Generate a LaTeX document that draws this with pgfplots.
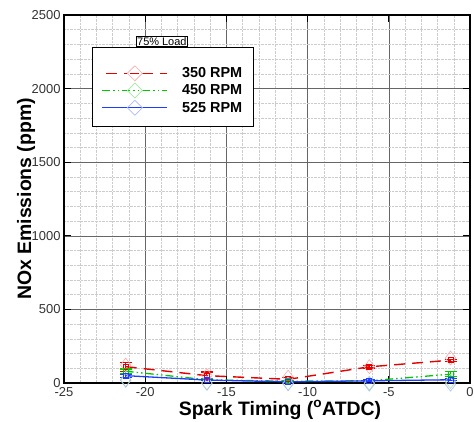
\documentclass[border=0pt]{standalone}
\usepackage{fontspec}
\setmainfont{Liberation Sans}
\usepackage{pgfplots}
\pgfplotsset{compat=1.18}
\definecolor{myred}{RGB}{230,0,0}
\definecolor{mygreen}{RGB}{0,200,0}
\definecolor{myblue}{RGB}{30,60,255}
\definecolor{lgred}{RGB}{250,170,170}
\definecolor{lggreen}{RGB}{160,235,160}
\definecolor{lgblue}{RGB}{175,185,255}
\begin{document}
\begin{tikzpicture}[x=1bp,y=1bp]
\begin{axis}[
 at={(0,0)}, anchor=south west,
 scale only axis, width=406bp, height=368bp,
 xmin=-25, xmax=0, ymin=0, ymax=2500,
 xtick={-25,-20,...,0}, ytick={0,500,...,2500},
 minor x tick num=4, minor y tick num=4,
 grid=both,
 major grid style={black!60, line width=0.5pt},
 minor grid style={gray!40, densely dotted, line width=0.5pt},
 tick align=inside,
 major tick length=7bp, minor tick length=0bp,
 axis line style={line width=1.2pt},
 tick style={black, line width=1pt},
 ticklabel style={font=\fontsize{13}{15}\selectfont, text=black!80},
 xticklabel style={yshift=-1bp},
 /pgf/number format/assume math mode=true,
 /pgf/number format/set thousands separator={},
 xlabel={Spark Timing (\textsuperscript{o}ATDC)},
 ylabel={NOx Emissions (ppm)},
 label style={font=\fontsize{19.5}{21}\selectfont\bfseries},
 xlabel style={at={(axis description cs:0.532,-0.0734)}, anchor=center},
 ylabel style={at={(axis description cs:-0.0935,0.5)}, anchor=center},
 clip=false,
 legend style={at={(rel axis cs:0.069,0.913)}, anchor=north west, draw=black, line width=1.3pt, fill=white,
   font=\fontsize{14.5}{16}\selectfont\bfseries, inner xsep=9bp, inner ysep=11bp, row sep=1.5bp,
   nodes={inner sep=2bp}},
 legend cell align=left,
]
% diamond markers
\addplot[only marks, mark=diamond, mark size=7bp, mark options={draw=lgred, line width=0.6pt, fill=none}, forget plot]
 coordinates {(-21.2,122) (-16.2,50) (-11.2,40) (-6.2,111) (-1.2,170)};
\addplot[only marks, mark=diamond, mark size=7bp, mark options={draw=lggreen, line width=0.6pt, fill=none}, forget plot]
 coordinates {(-21.2,22) (-16.2,0) (-11.2,-3) (-6.2,0) (-1.2,10)};
\addplot[only marks, mark=diamond, mark size=7bp, mark options={draw=lgblue, line width=0.6pt, fill=none}, forget plot]
 coordinates {(-21.2,18) (-16.2,-2) (-11.2,-5) (-6.2,-8) (-1.2,-8)};
% lines with error bars
\addplot[myred, line width=1.4pt, dash pattern=on 11bp off 7bp,
  mark=square, mark size=2.5bp, mark options={solid, line width=0.9pt},
  error bars/.cd, y dir=both, y explicit,
  error bar style={line width=1.1pt, solid},
  error mark options={rotate=90, mark size=6bp, line width=1.1pt, solid},
  /pgfplots/legend image code/.code={
    \path (0bp,14bp) (77bp,0bp);
    \begingroup\color{myred}
    \draw[myred, line width=1.4pt, dash pattern=on 11bp off 7bp, dash phase=-4bp] (0bp,0bp) -- (65bp,0bp);
    \endgroup
    \draw[draw=lgred, line width=0.7pt, solid, fill=white] (32.5bp,-7.5bp) -- (40bp,0bp) -- (32.5bp,7.5bp) -- (25bp,0bp) -- cycle;
    \begingroup\color{myred}
    \draw[myred, line width=1.4pt, solid] (28bp,0bp) -- (37bp,0bp);
    \endgroup},
  ]
 coordinates {(-21.2,111) +- (0,30) (-16.2,50) +- (0,25) (-11.2,25) +- (0,10) (-6.2,110) +- (0,8) (-1.2,155) +- (0,6)};
\addlegendentry{350 RPM}
\addplot[mygreen, line width=1.3pt, dash pattern=on 8bp off 3bp on 1.5bp off 3bp on 1.5bp off 3bp,
  mark=square, mark size=2.5bp, mark options={solid, line width=0.9pt},
  error bars/.cd, y dir=both, y explicit,
  error bar style={line width=1.1pt, solid},
  error mark options={rotate=90, mark size=6bp, line width=1.1pt, solid},
  /pgfplots/legend image code/.code={
    \path (77bp,0bp);
    \begingroup\color{mygreen}
    \draw[mygreen, line width=1.3pt, dash pattern=on 8bp off 3bp on 1.5bp off 3bp on 1.5bp off 3bp] (0bp,0bp) -- (65bp,0bp);
    \endgroup
    \draw[draw=lggreen, line width=0.7pt, solid] (32.5bp,-7.5bp) -- (40bp,0bp) -- (32.5bp,7.5bp) -- (25bp,0bp) -- cycle;},
  ]
 coordinates {(-21.2,80) +- (0,15) (-16.2,22) +- (0,5) (-11.2,12) +- (0,4) (-6.2,15) +- (0,4) (-1.2,60) +- (0,18)};
\addlegendentry{450 RPM}
\addplot[myblue, line width=1.3pt, solid,
  mark=square, mark size=2.5bp, mark options={solid, line width=0.9pt},
  error bars/.cd, y dir=both, y explicit,
  error bar style={line width=1.1pt, solid},
  error mark options={rotate=90, mark size=6bp, line width=1.1pt, solid},
  /pgfplots/legend image code/.code={
    \path (77bp,0bp);
    \begingroup\color{myblue}
    \draw[myblue, line width=1.4pt, solid] (0bp,0bp) -- (65bp,0bp);
    \endgroup
    \draw[draw=lgblue, line width=0.7pt, solid] (32.5bp,-7.5bp) -- (40bp,0bp) -- (32.5bp,7.5bp) -- (25bp,0bp) -- cycle;},
  ]
 coordinates {(-21.2,50) +- (0,10) (-16.2,20) +- (0,5) (-11.2,8) +- (0,3) (-6.2,15) +- (0,6) (-1.2,22) +- (0,6)};
\addlegendentry{525 RPM}
\node[draw=black, fill=white, line width=0.8pt, inner sep=1bp, anchor=south, font=\fontsize{11}{12}\selectfont]
  at (rel axis cs:0.241,0.913) {75\% Load};
\end{axis}
\pgfresetboundingbox
\path[use as bounding box] (-64,-38) rectangle (410,383);
\end{tikzpicture}
\end{document}
